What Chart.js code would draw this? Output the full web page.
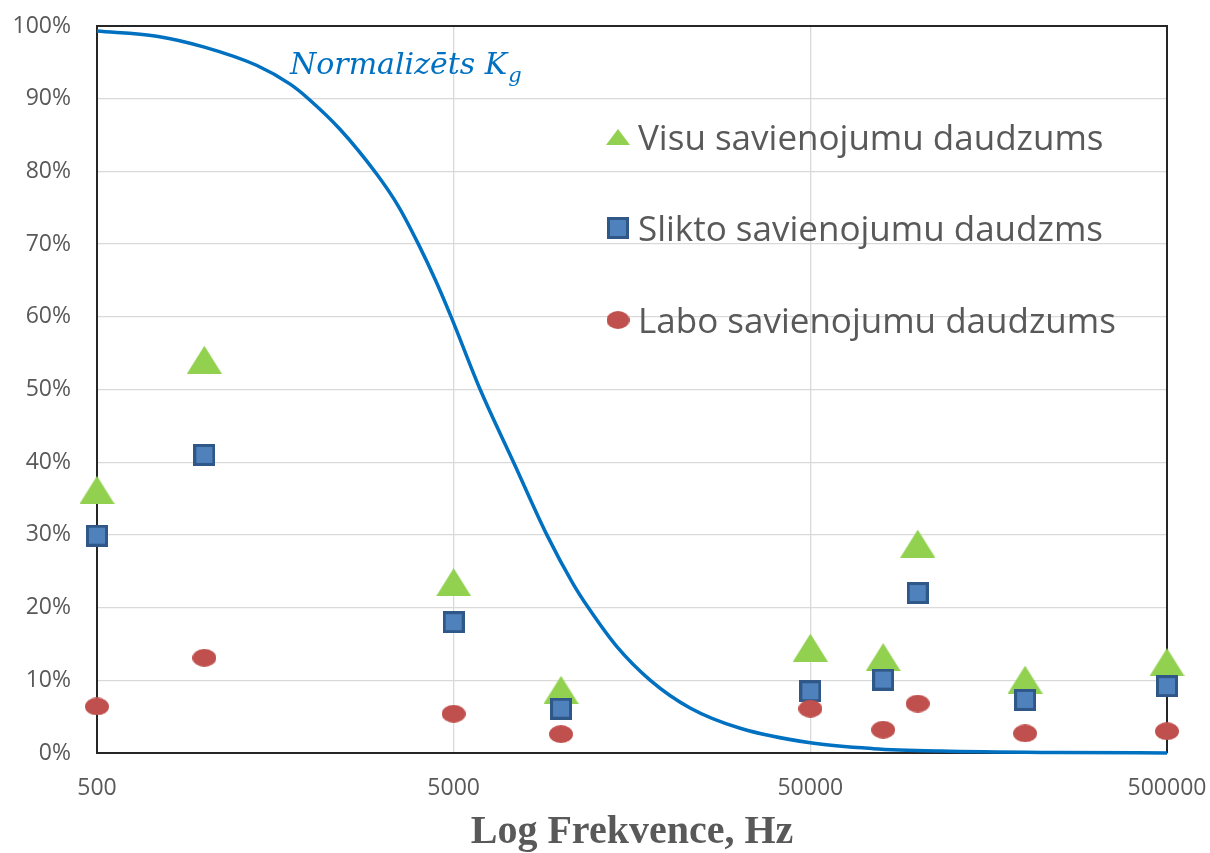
<!DOCTYPE html>
<html>
<head>
<meta charset="utf-8">
<script src="https://cdn.jsdelivr.net/npm/chart.js@4.4.0/dist/chart.umd.min.js"></script>
<style>
  body { margin: 0; background: #fff; }
</style>
</head>
<body>
<canvas id="chart1" width="1210" height="853"></canvas>
<script>
// frequencies of the measured points (Hz)
const freqs = [500, 1000, 5000, 10000, 50000, 80000, 100000, 200000, 500000];
// percent values
const visu = [36.2, 54.1, 23.5, 8.7, 14.5, 13.2, 28.8, 10.1, 12.5];
const slikto = [29.9, 41.0, 18.0, 6.1, 8.5, 10.1, 22.0, 7.3, 9.2];
const labo = [6.4, 13.1, 5.4, 2.6, 6.1, 3.2, 6.8, 2.7, 3.0];

// normalised Kg curve
const curveFreqs = [500, 735, 1000, 1400, 1740, 1957, 2400, 3045, 3500, 3982, 4450, 4919, 5934, 7359, 9127, 10800, 11920, 14300, 17800, 23000, 31800, 50000, 75000, 116000, 250000, 500000];
const curveKg = [99.3, 98.6, 97.1, 94.6, 92.0, 90, 85.8, 79.6, 75.2, 70, 65, 60, 50, 40, 30, 23.3, 20, 14.7, 10, 6.2, 3.4, 1.4, 0.6, 0.26, 0.06, 0.01];

const xTicks = [500, 5000, 50000, 500000];
const legendLabels = ['Visu savienojumu daudzums', 'Slikto savienojumu daudzms', 'Labo savienojumu daudzums'];

const textColor = '#595959';
const gridColor = '#d9d9d9';

function makeMarker(w, h, draw) {
    const c = document.createElement('canvas');
    c.width = w;
    c.height = h;
    draw(c.getContext('2d'), w, h);
    return c;
}
function triangle(w, h) {
    return makeMarker(w, h, (ctx) => {
        ctx.fillStyle = '#92d050';
        ctx.beginPath();
        ctx.moveTo(w / 2, 0);
        ctx.lineTo(w, h);
        ctx.lineTo(0, h);
        ctx.closePath();
        ctx.fill();
    });
}
function square(s) {
    return makeMarker(s, s, (ctx) => {
        ctx.fillStyle = '#4f81bd';
        ctx.fillRect(0, 0, s, s);
        ctx.strokeStyle = '#2f5888';
        ctx.lineWidth = 3;
        ctx.strokeRect(1.5, 1.5, s - 3, s - 3);
    });
}
function ellipse(w, h) {
    return makeMarker(w, h, (ctx) => {
        ctx.fillStyle = '#c0504d';
        ctx.beginPath();
        ctx.ellipse(w / 2, h / 2, w / 2, h / 2, 0, 0, Math.PI * 2);
        ctx.fill();
    });
}

const triMark = triangle(35, 28);
const sqMark = square(22);
const elMark = ellipse(24, 18);
const legendMarks = [triangle(24, 16), square(22), ellipse(23, 18)];

const toPoints = (xs, ys) => xs.map((x, i) => ({ x: x, y: ys[i] }));

// keep tick labels from pushing the plot area inwards
function noPad(s) {
    s.paddingTop = 0;
    s.paddingBottom = 0;
    s.paddingLeft = 0;
    s.paddingRight = 0;
}

const frameAndLabels = {
    id: 'frameAndLabels',
    beforeDatasetsDraw(chart) {
        const { ctx, chartArea: a } = chart;
        ctx.save();
        ctx.strokeStyle = '#262626';
        ctx.lineWidth = 2;
        ctx.beginPath();
        ctx.moveTo(a.left, a.top);
        ctx.lineTo(a.right, a.top);
        ctx.lineTo(a.right, a.bottom);
        ctx.stroke();
        ctx.restore();
    },
    afterDraw(chart) {
        const ctx = chart.ctx;
        ctx.save();
        // legend inside the plot
        const rows = [137, 228, 320];
        ctx.font = '35px "Open Sans"';
        ctx.fillStyle = textColor;
        ctx.textBaseline = 'alphabetic';
        legendLabels.forEach((t, i) => {
            const m = legendMarks[i];
            ctx.drawImage(m, 618 - m.width / 2, rows[i] - m.height / 2);
            ctx.fillText(t, 638, rows[i] + 12.5);
        });
        // curve label
        ctx.fillStyle = '#0070c0';
        ctx.font = 'italic 30px "DejaVu Serif"';
        const t1 = 'Normalizēts K';
        ctx.fillText(t1, 290, 74);
        const w1 = ctx.measureText(t1).width;
        ctx.font = 'italic 21px "DejaVu Serif"';
        ctx.fillText('g', 290 + w1 + 1, 82);
        ctx.restore();
    }
};

const config1 = {
    type: 'scatter',
    data: {
        datasets: [
            {
                label: 'Normalizēts Kg',
                data: toPoints(curveFreqs, curveKg),
                showLine: true,
                borderColor: '#0070c0',
                borderWidth: 3.5,
                pointRadius: 0,
                cubicInterpolationMode: 'monotone',
                fill: false,
                clip: false
            },
            {
                label: legendLabels[2],
                data: toPoints(freqs, labo),
                pointStyle: elMark,
                pointRadius: 12,
                clip: false
            },
            {
                label: legendLabels[1],
                data: toPoints(freqs, slikto),
                pointStyle: sqMark,
                pointRadius: 12,
                clip: false
            },
            {
                label: legendLabels[0],
                data: toPoints(freqs, visu),
                pointStyle: triMark,
                pointRadius: 14,
                clip: false
            }
        ]
    },
    options: {
        responsive: false,
        animation: false,
        layout: { padding: { top: 26, right: 43, left: 0, bottom: 0 } },
        plugins: {
            legend: { display: false },
            tooltip: { enabled: false }
        },
        scales: {
            x: {
                type: 'logarithmic',
                min: 500,
                max: 500000,
                afterBuildTicks: (s) => { s.ticks = xTicks.map(v => ({ value: v })); },
                afterFit: (s) => { s.height = 100; noPad(s); },
                ticks: {
                    callback: (v) => String(v),
                    font: { family: 'Open Sans', size: 23 },
                    color: textColor,
                    padding: 22,
                    maxRotation: 0,
                    autoSkip: false
                },
                grid: { color: gridColor, lineWidth: 1.3, drawTicks: false },
                border: { display: true, color: '#262626', width: 2 },
                title: {
                    display: true,
                    text: 'Log Frekvence, Hz',
                    color: textColor,
                    font: { family: 'Liberation Serif', size: 40, weight: 'bold', lineHeight: 1 },
                    padding: 0
                }
            },
            y: {
                min: 0,
                max: 100,
                afterFit: (s) => { s.width = 97; noPad(s); },
                ticks: {
                    stepSize: 10,
                    callback: (v) => v + '%',
                    font: { family: 'Open Sans', size: 23 },
                    color: textColor,
                    padding: 26
                },
                grid: { color: gridColor, lineWidth: 1.3, drawTicks: false },
                border: { display: true, color: '#262626', width: 2 }
            }
        }
    },
    plugins: [frameAndLabels]
};

const myChart1 = new Chart(document.getElementById('chart1').getContext('2d'), config1);
</script>
</body>
</html>
